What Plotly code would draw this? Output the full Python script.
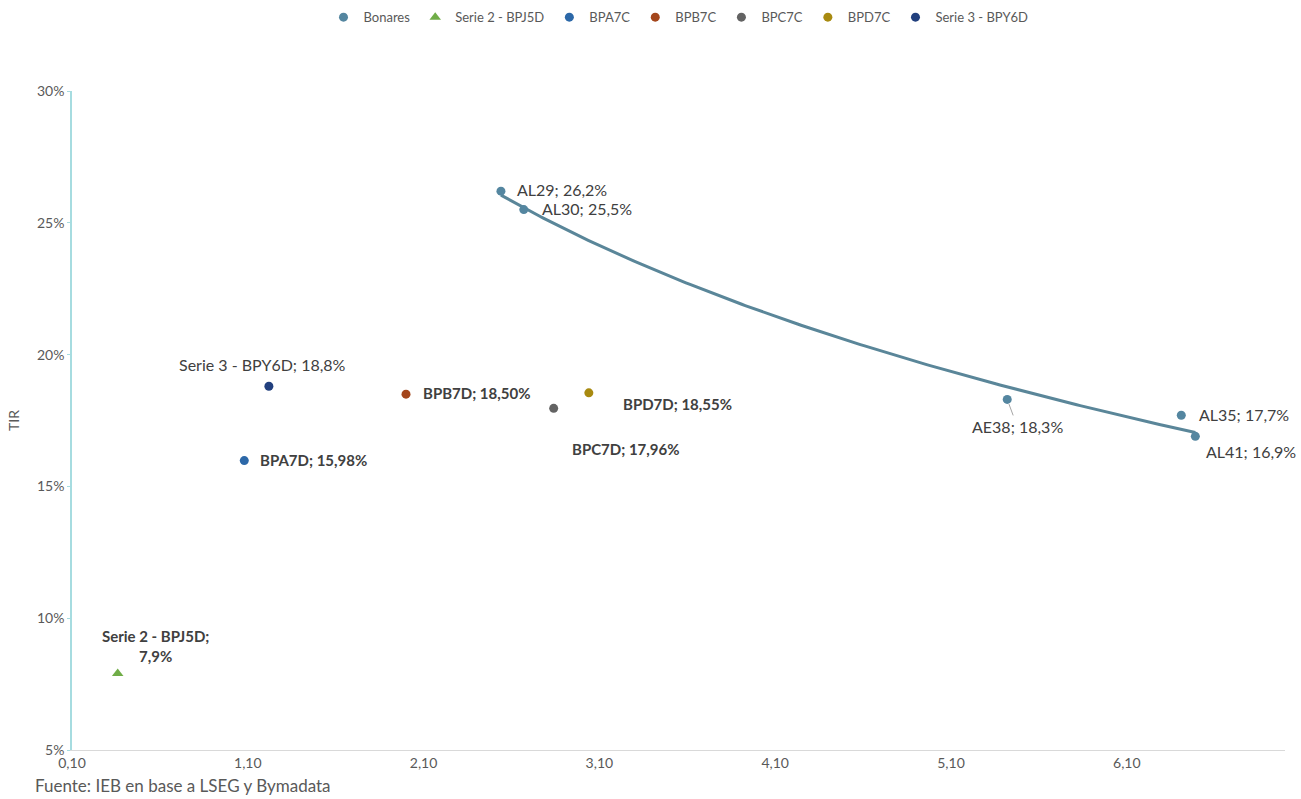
import numpy as np
import plotly.graph_objects as go

# Bonares curve
bonares_names = ["AL29", "AL30", "AE38", "AL35", "AL41"]
bonares_dur = [2.54, 2.67, 5.42, 6.41, 6.49]
bonares_tir = [26.2, 25.5, 18.3, 17.7, 16.9]
bonares_lbl = ["26,2%", "25,5%", "18,3%", "17,7%", "16,9%"]

# BOPREAL series
bopreal_series = ["Serie 2 - BPJ5D", "BPA7C", "BPB7C", "BPC7C", "BPD7C", "Serie 3 - BPY6D"]
bopreal_names = ["Serie 2 - BPJ5D", "BPA7D", "BPB7D", "BPC7D", "BPD7D", "Serie 3 - BPY6D"]
bopreal_dur = [0.36, 1.08, 2.00, 2.84, 3.04, 1.22]
bopreal_tir = [7.9, 15.98, 18.50, 17.96, 18.55, 18.8]
bopreal_lbl = ["7,9%", "15,98%", "18,50%", "17,96%", "18,55%", "18,8%"]
bopreal_colors = ["#70AD47", "#2C68A8", "#A4461C", "#636363", "#A88A10", "#22407E"]
bopreal_symbols = ["triangle-up", "circle", "circle", "circle", "circle", "circle"]
bopreal_bold = [False, True, True, True, True, False]

x_ticks = [0.10, 1.10, 2.10, 3.10, 4.10, 5.10, 6.10]
x_ticktext = ["0,10", "1,10", "2,10", "3,10", "4,10", "5,10", "6,10"]
y_ticks = [5, 10, 15, 20, 25, 30]
y_ticktext = ["5%", "10%", "15%", "20%", "25%", "30%"]

FONT = "Lato"
TXT = "#404040"
BONARES_COLOR = "#5486A0"

fig = go.Figure()

# Logarithmic trend line through the Bonares points
b, a = np.polyfit(np.log(bonares_dur), bonares_tir, 1)
xt = np.linspace(min(bonares_dur), max(bonares_dur), 200)
fig.add_trace(go.Scatter(
    x=xt, y=a + b * np.log(xt), mode="lines",
    line=dict(color="#5A8699", width=3), showlegend=False, hoverinfo="skip"))

fig.add_trace(go.Scatter(
    x=bonares_dur, y=bonares_tir, mode="markers", name="Bonares",
    marker=dict(color=BONARES_COLOR, size=9), text=bonares_names))

# legend order: Bonares, Serie 2, BPA7C, BPB7C, BPC7C, BPD7C, Serie 3
for s, n, x, y, c, sym in zip(bopreal_series, bopreal_names, bopreal_dur, bopreal_tir,
                               bopreal_colors, bopreal_symbols):
    fig.add_trace(go.Scatter(
        x=[x], y=[y], mode="markers", name=s, text=[n],
        marker=dict(color=c, size=9 if sym == "circle" else 10, symbol=sym)))

REG = dict(family=FONT, size=16, color=TXT)
BOLD = dict(family=FONT, size=15, color=TXT)

# Data labels: (xanchor, xshift, yshift)
bonares_pos = {
    "AL29": ("left", 14, 2),
    "AL30": ("left", 16, 1),
    "AL35": ("left", 16, 1),
    "AL41": ("left", 9, -15),
}
for n, x, y, l in zip(bonares_names, bonares_dur, bonares_tir, bonares_lbl):
    txt = f"{n}; {l}"
    if n == "AE38":
        fig.add_annotation(x=x, y=y, text=txt, showarrow=True, ax=10, ay=27,
                           arrowhead=0, arrowwidth=1, arrowcolor="#A6A6A6",
                           standoff=5, font=REG)
        continue
    xa, xs, ys = bonares_pos[n]
    fig.add_annotation(x=x, y=y, text=txt, showarrow=False, xanchor=xa,
                       xshift=xs, yshift=ys, font=REG)

bopreal_pos = {
    "Serie 2 - BPJ5D": ("center", 38, 28),
    "BPA7D": ("left", 14, 1),
    "BPB7D": ("left", 15, 1),
    "BPC7D": ("left", 16, -41),
    "BPD7D": ("left", 32, -11),
    "Serie 3 - BPY6D": ("center", -6, 22),
}
for n, x, y, l, bold in zip(bopreal_names, bopreal_dur, bopreal_tir, bopreal_lbl, bopreal_bold):
    xa, xs, ys = bopreal_pos[n]
    if n.startswith("Serie 2"):
        txt = f"<b>{n};</b><br><b>{l}</b>"
        f = BOLD
    elif bold:
        txt = f"<b>{n}; {l}</b>"
        f = BOLD
    else:
        txt = f"{n}; {l}"
        f = REG
    fig.add_annotation(x=x, y=y, text=txt, showarrow=False, xanchor=xa,
                       xshift=xs, yshift=ys, align="center", font=f)

fig.add_annotation(xref="paper", yref="paper", x=-0.032, y=-0.0735, xanchor="left",
                   yanchor="bottom", showarrow=False,
                   text="Fuente: IEB en base a LSEG y Bymadata",
                   font=dict(family=FONT, size=17, color="#595959"))

fig.update_layout(
    width=1301, height=799,
    margin=dict(l=72, r=16, t=91, b=49, autoexpand=False),
    paper_bgcolor="white", plot_bgcolor="white",
    font=dict(family=FONT, size=13, color="#595959"),
    legend=dict(orientation="h", x=0.5, xanchor="center", y=1.112, yanchor="middle",
                font=dict(family=FONT, size=13, color="#595959"),
                itemwidth=30, tracegroupgap=0),
    xaxis=dict(range=[0.10, 7.0], tickvals=x_ticks, ticktext=x_ticktext,
               showgrid=False, zeroline=False, showline=True, linecolor="#D9D9D9",
               linewidth=1, ticks="", tickfont=dict(family=FONT, size=14, color="#595959")),
    yaxis=dict(range=[5, 30], tickvals=y_ticks, ticktext=y_ticktext,
               showgrid=False, zeroline=False, showline=True, linecolor="#A6DCE0",
               linewidth=1.5, ticks="outside", ticklen=3, tickcolor="#A6DCE0",
               title=dict(text="TIR", font=dict(family=FONT, size=14, color="#595959"),
                          standoff=14),
               tickfont=dict(family=FONT, size=14, color="#595959")),
)

fig.write_html("out.html")
